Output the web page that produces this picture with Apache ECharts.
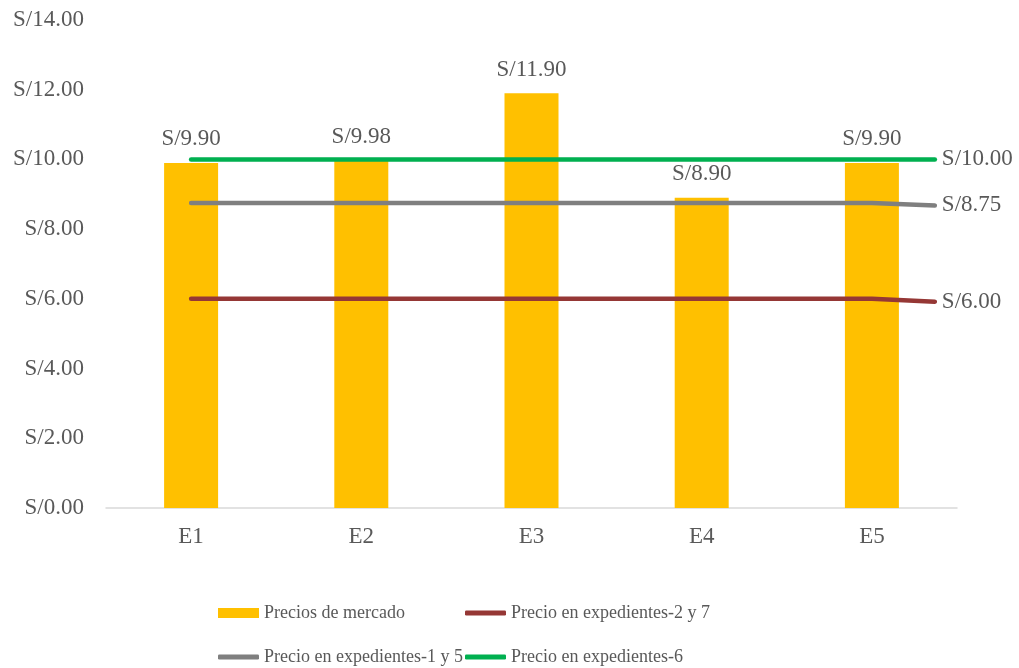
<!DOCTYPE html>
<html>
<head>
<meta charset="utf-8">
<script src="https://cdn.jsdelivr.net/npm/echarts@6/dist/echarts.min.js"></script>
<style>html,body{margin:0;padding:0;background:#fff;}#c{width:1019px;height:668px;}</style>
</head>
<body>
<div id="c"></div>
<script>
const categories = ['E1', 'E2', 'E3', 'E4', 'E5'];
const yTicks = [0, 2, 4, 6, 8, 10, 12, 14];
const marketPrices = [9.90, 9.98, 11.90, 8.90, 9.90];
// line series: x positions (in category units) and values
const lineX = [0.5, 1.5, 2.5, 3.5, 4.5, 4.87];
const exp27 = [6.00, 6.00, 6.00, 6.00, 6.00, 5.92];
const exp15 = [8.75, 8.75, 8.75, 8.75, 8.75, 8.68];
const exp6 = [10.00, 10.00, 10.00, 10.00, 10.00, 10.00];
const endLabels = ['S/6.00', 'S/8.75', 'S/10.00'];
const names = ['Precios de mercado', 'Precio en expedientes-2 y 7', 'Precio en expedientes-1 y 5', 'Precio en expedientes-6'];

const FONT = "'Liberation Serif','Times New Roman',serif";
const TXT = '#595959';
const fmt = v => 'S/' + Number(v).toFixed(2);

function pts(vals) { return vals.map((v, i) => [lineX[i], v]); }

function lineSeries(name, vals, color, endLabel) {
  return {
    name: name, type: 'line', xAxisIndex: 1, yAxisIndex: 0,
    data: pts(vals), symbol: 'none', showSymbol: false, z: 5,
    lineStyle: { color: color, width: 4.5, cap: 'round', join: 'round' },
    itemStyle: { color: color },
    endLabel: { show: true, formatter: endLabel, fontFamily: FONT, fontSize: 23, color: TXT, distance: 7 }
  };
}

function leg(name, left, top, h, icon) {
  return { left: left, top: top, itemWidth: 41, itemHeight: h, icon: icon, padding: 0,
    data: [name], selectedMode: false,
    textStyle: { fontFamily: FONT, fontSize: 18, color: TXT } };
}

const chart = echarts.init(document.getElementById('c'));
chart.setOption({
  animation: false,
  backgroundColor: '#fff',
  grid: { left: 106, right: 62, top: 20, bottom: 160, containLabel: false },
  xAxis: [
    { type: 'category', data: categories,
      axisLine: { lineStyle: { color: '#D9D9D9', width: 1.5 } },
      axisTick: { show: false },
      axisLabel: { fontFamily: FONT, fontSize: 23, color: TXT, margin: 17 } },
    { type: 'value', min: 0, max: 5, show: false }
  ],
  yAxis: [{
    type: 'value', min: 0, max: 14, interval: 2,
    axisLine: { show: false }, axisTick: { show: false },
    splitLine: { show: false },
    axisLabel: { fontFamily: FONT, fontSize: 23, color: TXT, margin: 22, formatter: fmt }
  }],
  legend: [
    leg(names[0], 218, 604, 10, 'rect'),
    leg(names[1], 465, 604, 5, 'roundRect'),
    leg(names[2], 218, 648, 5, 'roundRect'),
    leg(names[3], 465, 648, 5, 'roundRect')
  ],
  series: [
    { name: names[0], type: 'bar', data: marketPrices, barWidth: 54, z: 2,
      itemStyle: { color: '#FFC000' },
      label: { show: true, position: 'top', distance: 12, formatter: p => fmt(p.value),
        fontFamily: FONT, fontSize: 23, color: TXT } },
    lineSeries(names[1], exp27, '#953735', endLabels[0]),
    lineSeries(names[2], exp15, '#7F7F7F', endLabels[1]),
    lineSeries(names[3], exp6, '#00B050', endLabels[2])
  ]
});
</script>
</body>
</html>
